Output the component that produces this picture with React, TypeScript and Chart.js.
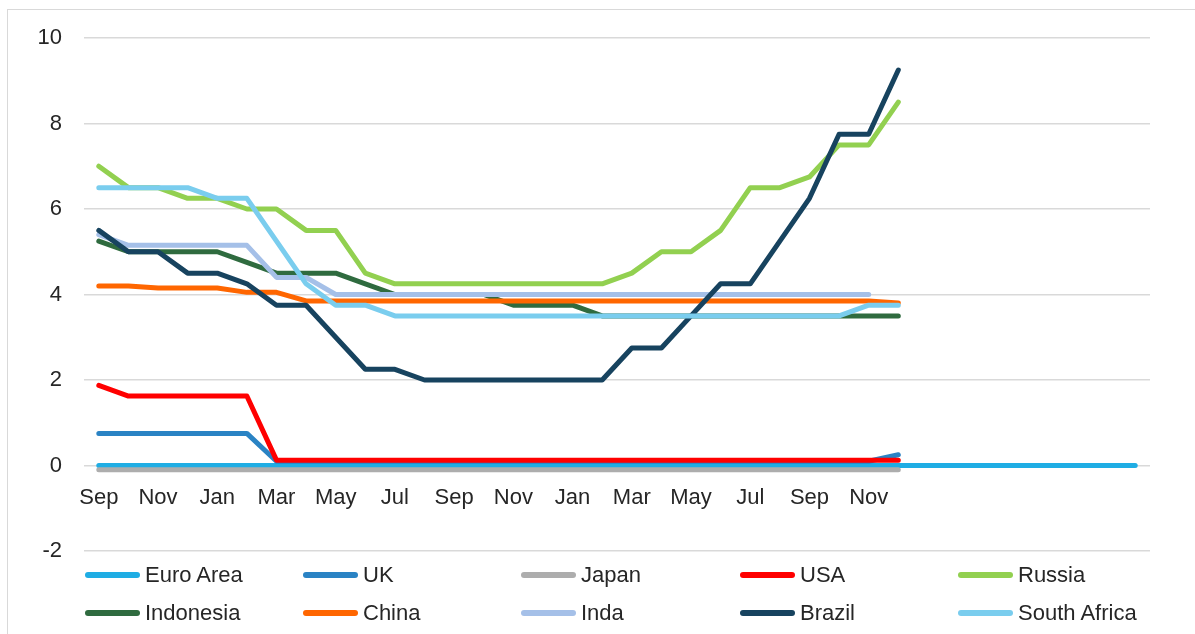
import React, { useEffect, useRef } from 'react';
import { Chart, registerables } from 'chart.js';

Chart.register(...registerables);

const months = ['Sep', 'Oct', 'Nov', 'Dec', 'Jan', 'Feb', 'Mar', 'Apr', 'May', 'Jun', 'Jul', 'Aug', 'Sep', 'Oct', 'Nov', 'Dec', 'Jan', 'Feb', 'Mar', 'Apr', 'May', 'Jun', 'Jul', 'Aug', 'Sep', 'Oct', 'Nov', 'Dec', 'Jan', 'Feb', 'Mar', 'Apr', 'May', 'Jun', 'Jul', 'Aug'];
const tickLabels = ['Sep', '', 'Nov', '', 'Jan', '', 'Mar', '', 'May', '', 'Jul', '', 'Sep', '', 'Nov', '', 'Jan', '', 'Mar', '', 'May', '', 'Jul', '', 'Sep', '', 'Nov', '', '', '', '', '', '', '', '', ''];
const yTicks = [-2, 0, 2, 4, 6, 8, 10];

const euroArea = [0, 0, 0, 0, 0, 0, 0, 0, 0, 0, 0, 0, 0, 0, 0, 0, 0, 0, 0, 0, 0, 0, 0, 0, 0, 0, 0, 0, 0, 0, 0, 0, 0, 0, 0, 0];
const uk = [0.75, 0.75, 0.75, 0.75, 0.75, 0.75, 0.1, 0.1, 0.1, 0.1, 0.1, 0.1, 0.1, 0.1, 0.1, 0.1, 0.1, 0.1, 0.1, 0.1, 0.1, 0.1, 0.1, 0.1, 0.1, 0.1, 0.1, 0.25];
const japan = [-0.1, -0.1, -0.1, -0.1, -0.1, -0.1, -0.1, -0.1, -0.1, -0.1, -0.1, -0.1, -0.1, -0.1, -0.1, -0.1, -0.1, -0.1, -0.1, -0.1, -0.1, -0.1, -0.1, -0.1, -0.1, -0.1, -0.1, -0.1];
const usa = [1.875, 1.625, 1.625, 1.625, 1.625, 1.625, 0.125, 0.125, 0.125, 0.125, 0.125, 0.125, 0.125, 0.125, 0.125, 0.125, 0.125, 0.125, 0.125, 0.125, 0.125, 0.125, 0.125, 0.125, 0.125, 0.125, 0.125, 0.125];
const russia = [7, 6.5, 6.5, 6.25, 6.25, 6, 6, 5.5, 5.5, 4.5, 4.25, 4.25, 4.25, 4.25, 4.25, 4.25, 4.25, 4.25, 4.5, 5, 5, 5.5, 6.5, 6.5, 6.75, 7.5, 7.5, 8.5];
const indonesia = [5.25, 5, 5, 5, 5, 4.75, 4.5, 4.5, 4.5, 4.25, 4, 4, 4, 4, 3.75, 3.75, 3.75, 3.5, 3.5, 3.5, 3.5, 3.5, 3.5, 3.5, 3.5, 3.5, 3.5, 3.5];
const china = [4.2, 4.2, 4.15, 4.15, 4.15, 4.05, 4.05, 3.85, 3.85, 3.85, 3.85, 3.85, 3.85, 3.85, 3.85, 3.85, 3.85, 3.85, 3.85, 3.85, 3.85, 3.85, 3.85, 3.85, 3.85, 3.85, 3.85, 3.8];
const india = [5.4, 5.15, 5.15, 5.15, 5.15, 5.15, 4.4, 4.4, 4, 4, 4, 4, 4, 4, 4, 4, 4, 4, 4, 4, 4, 4, 4, 4, 4, 4, 4];
const brazil = [5.5, 5, 5, 4.5, 4.5, 4.25, 3.75, 3.75, 3, 2.25, 2.25, 2, 2, 2, 2, 2, 2, 2, 2.75, 2.75, 3.5, 4.25, 4.25, 5.25, 6.25, 7.75, 7.75, 9.25];
const southAfrica = [6.5, 6.5, 6.5, 6.5, 6.25, 6.25, 5.25, 4.25, 3.75, 3.75, 3.5, 3.5, 3.5, 3.5, 3.5, 3.5, 3.5, 3.5, 3.5, 3.5, 3.5, 3.5, 3.5, 3.5, 3.5, 3.5, 3.75, 3.75];

const seriesNames = ['Euro Area', 'UK', 'Japan', 'USA', 'Russia', 'Indonesia', 'China', 'Inda', 'Brazil', 'South Africa'];
const seriesData = [euroArea, uk, japan, usa, russia, indonesia, china, india, brazil, southAfrica];
const seriesColors = ['#1FADE4', '#2A83C4', '#ADADAD', '#FF0000', '#92D050', '#2F6B3F', '#FF6600', '#A5C0E8', '#17435F', '#7ACDEE'];

const FONT = '"Liberation Sans", Arial, sans-serif';
const TEXT = '#262626';

export default function App() {
  const ref = useRef<HTMLCanvasElement | null>(null);

  useEffect(() => {
    document.body.style.overflow = 'hidden';
    const canvas = ref.current;
    if (!canvas) return;
    const chart = new Chart(canvas, {
      type: 'line',
      data: {
        labels: months,
        datasets: seriesNames.map((name, i) => ({
          label: name,
          data: seriesData[i],
          borderColor: seriesColors[i],
          backgroundColor: seriesColors[i],
          borderWidth: 5,
          pointRadius: 0,
          tension: 0,
          fill: false,
          borderCapStyle: 'round' as const,
          borderJoinStyle: 'round' as const,
          order: -i,
        })),
      },
      options: {
        responsive: false,
        animation: false,
        layout: { padding: { left: 0, right: 45, top: 38, bottom: 83 } },
        plugins: { legend: { display: false }, tooltip: { enabled: false } },
        scales: {
          x: {
            position: { y: 0 } as any,
            offset: true,
            grid: { display: false, drawTicks: false },
            border: { display: false },
            ticks: {
              autoSkip: false,
              maxRotation: 0,
              padding: 19,
              color: TEXT,
              font: { family: FONT, size: 22 },
              callback: (_v: any, idx: number) => tickLabels[idx],
            },
          },
          y: {
            min: -2,
            max: 10,
            afterFit: (scale: any) => {
              scale.width = 84;
            },
            afterBuildTicks: (scale: any) => {
              scale.ticks = yTicks.map((v) => ({ value: v }));
            },
            grid: { color: '#D9D9D9', lineWidth: 1.5, drawTicks: false },
            border: { display: false },
            ticks: {
              padding: 22,
              color: TEXT,
              font: { family: FONT, size: 22 },
            },
          },
        },
      },
    });
    return () => chart.destroy();
  }, []);

  const legendCols = [85, 303, 521, 740, 958];
  const legendRows = [575, 613];

  return (
    <div style={{ position: 'fixed', left: 0, top: 0, width: 1195, height: 634, overflow: 'hidden', background: '#fff' }}>
      <div style={{ position: 'absolute', left: 7, top: 9, width: 1400, height: 800, border: '1.5px solid #D9D9D9' }} />
      <canvas ref={ref} width={1195} height={634} style={{ position: 'absolute', left: 0, top: 0 }} />
      {seriesNames.map((name, i) => {
        const col = i % 5;
        const row = Math.floor(i / 5);
        return (
          <div
            key={name}
            style={{
              position: 'absolute',
              left: legendCols[col],
              top: legendRows[row] - 15,
              height: 30,
              display: 'flex',
              alignItems: 'center',
              fontFamily: FONT,
              fontSize: 22,
              color: TEXT,
              whiteSpace: 'nowrap',
            }}
          >
            <span style={{ display: 'inline-block', width: 55, height: 6, borderRadius: 3, background: seriesColors[i], marginRight: 5 }} />
            <span>{name}</span>
          </div>
        );
      })}
    </div>
  );
}
